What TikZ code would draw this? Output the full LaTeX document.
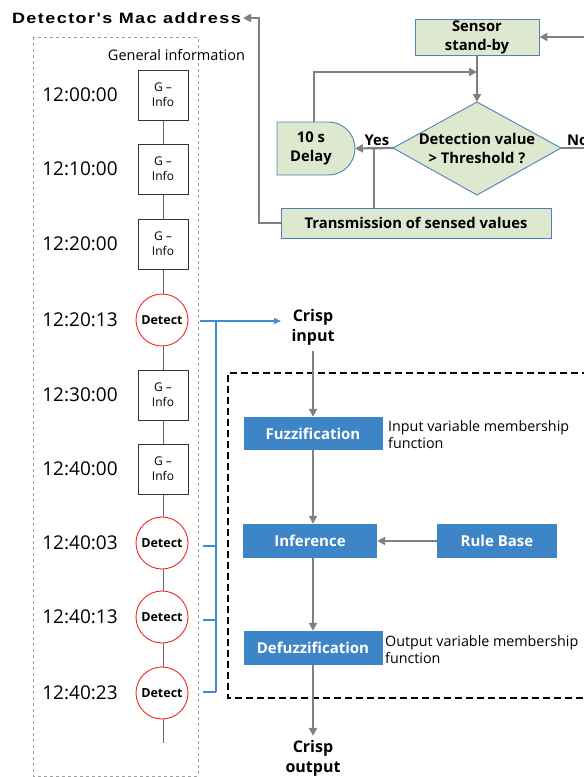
\documentclass[tikz,border=0pt]{standalone}
\usepackage{fontspec}
\setmainfont{Open Sans}
\newfontfamily\headfont[LetterSpace=8]{Liberation Sans}
\usetikzlibrary{arrows.meta}

\definecolor{flowgray}{RGB}{128,128,128}
\definecolor{greenfill}{RGB}{221,232,207}
\definecolor{edgeblue}{RGB}{79,129,189}
\definecolor{fuzzblue}{RGB}{61,133,198}
\definecolor{lineblue}{RGB}{66,138,210}
\definecolor{detred}{RGB}{240,40,40}

\tikzset{
  flow/.style={draw=flowgray, line width=2.2pt, -{Triangle[length=8pt,width=8pt]}},
  gline/.style={draw=flowgray, line width=2.2pt},
  timeline/.style={draw=black!60, line width=0.9pt},
  gbox/.style={draw=black!80, fill=white, line width=0.9pt, minimum width=50pt, minimum height=50pt,
    inner sep=0pt, align=center, font=\fontsize{12}{15}\selectfont},
  detect/.style={circle, draw=detred, fill=white, line width=0.9pt, minimum size=52pt, inner sep=0pt,
    font=\bfseries\fontsize{12.5}{14}\selectfont},
  timelbl/.style={font=\fontsize{19}{22}\selectfont},
  greenbox/.style={draw=edgeblue, fill=greenfill, line width=0.9pt},
  gtext/.style={font=\bfseries\fontsize{14.8}{19}\selectfont, align=center, inner sep=0pt},
  fuzzy/.style={fill=fuzzblue, text=white, font=\bfseries\fontsize{15}{18}\selectfont, inner sep=0pt},
  note/.style={font=\fontsize{14.3}{17}\selectfont, align=left, anchor=west, inner sep=0pt},
  crisp/.style={font=\bfseries\fontsize{16}{20}\selectfont, align=center, inner sep=0pt},
  blueline/.style={draw=lineblue, line width=1.3pt},
}

\begin{document}
\begin{tikzpicture}[x=1pt,y=-1pt]
\useasboundingbox (0,0) rectangle (584,777);

% ---------- detector log (left column) ----------
\node[anchor=east, inner sep=2pt] (mac) at (243,18)
  {\scalebox{1.2}[1]{\headfont\bfseries\fontsize{15}{18}\selectfont Detector's Mac address}};
\draw[gray!75, dashed, line width=0.8pt] (33,37) rectangle (198,776);
\node[font=\fontsize{14.5}{16}\selectfont] (geninfo) at (176.5,55) {General information};

\coordinate (tltop) at (163,120);
\coordinate (tlend) at (163,743);
\draw[timeline] (tltop) -- (tlend);

\node[gbox] (g1) at (163,95)  {G --\\Info};
\node[gbox] (g2) at (163,169) {G --\\Info};
\node[gbox] (g3) at (163,244) {G --\\Info};
\node[detect] (d1) at (162,320) {Detect};
\node[gbox] (g4) at (163,395) {G --\\Info};
\node[gbox] (g5) at (163,469) {G --\\Info};
\node[detect] (d2) at (162,543) {Detect};
\node[detect] (d3) at (162,617) {Detect};
\node[detect] (d4) at (162,693) {Detect};

\node[timelbl] (t1) at (80,95)  {12:00:00};
\node[timelbl] (t2) at (80,169) {12:10:00};
\node[timelbl] (t3) at (80,244) {12:20:00};
\node[timelbl] (t4) at (80,320) {12:20:13};
\node[timelbl] (t5) at (80,395) {12:30:00};
\node[timelbl] (t6) at (80,469) {12:40:00};
\node[timelbl] (t7) at (80,543) {12:40:03};
\node[timelbl] (t8) at (80,617) {12:40:13};
\node[timelbl] (t9) at (80,693) {12:40:23};

% ---------- detection events feeding the fuzzy system ----------
\coordinate (b0) at (200,321);
\coordinate (bj) at (216,321);
\coordinate (bend) at (216,692);
\coordinate (bt2) at (203,546);
\coordinate (bt3) at (203,620);
\coordinate (bt4) at (203,692);
\coordinate (crisptip) at (281,321);
\draw[blueline, -{Triangle[length=7pt,width=6pt]}] (b0) -- (crisptip);
\draw[blueline] (bj) -- (bend);
\draw[blueline] (bt2) -- (bt2 -| bj);
\draw[blueline] (bt3) -- (bt3 -| bj);
\draw[blueline] (bt4) -- (bj |- bt4);

% ---------- fuzzy inference system ----------
\node[crisp] (crispin) at (313,327) {Crisp\\input};
\draw[black, line width=2pt, dash pattern=on 7pt off 4pt] (600,373) -- (228,373) -- (228,698) -- (600,698);

\node[fuzzy, minimum width=139pt, minimum height=33pt] (fuzz) at (313,433.5) {Fuzzification};
\node[fuzzy, minimum width=134pt, minimum height=34pt] (infer) at (310,541) {Inference};
\node[fuzzy, minimum width=120pt, minimum height=34pt] (rules) at (497,541) {Rule Base};
\node[fuzzy, minimum width=139pt, minimum height=34pt] (defuzz) at (313,648) {Defuzzification};

\node[note] (innote) at (388,435) {Input variable membership\\function};
\node[note] (outnote) at (385,650) {Output variable membership\\function};

\node[crisp] (crispout) at (313,758) {Crisp\\output};

\draw[flow, shorten <=6pt] (crispin.south) -- (fuzz.north);
\draw[flow] (fuzz.south) -- (fuzz.south |- infer.north);
\draw[flow] (rules.west) -- (infer.east);
\draw[flow] (fuzz.south |- infer.south) -- (defuzz.north);
\draw[flow, shorten >=4pt] (defuzz.south) -- (crispout.north);

% ---------- sensor flowchart (top right) ----------
\node[greenbox, minimum width=124pt, minimum height=36pt, inner sep=0pt] (standby) at (477,37) {};
\node[gtext] (standbytxt) at (477,37) {Sensor\\stand-by};

\coordinate (dtop) at (477,102);
\coordinate (dleft) at (393,148);
\coordinate (dright) at (561,148);
\coordinate (dbot) at (477,195);
\draw[greenbox] (dtop) -- (dright) -- (dbot) -- (dleft) -- cycle;
\node[gtext] (decision) at (477,148.5) {Detection value\\> Threshold ?};

\coordinate (delaytop) at (314,122);
\coordinate (delayeast) at (355,148.5);
\draw[greenbox] (277,122) -- (328.5,122) arc[start angle=-90, end angle=90, radius=26.5] -- (277,175) -- cycle;
\node[gtext] (delay) at (311,148.5) {10 s\\Delay};

\node[greenbox, minimum width=270pt, minimum height=30pt, inner sep=0pt] (trans) at (416,223) {};
\node[gtext] (transtxt) at (416,223) {Transmission of sensed values};

\node[gtext] (yes) at (377,140) {Yes};
\node[gtext, anchor=west] (no) at (567,140) {No};

\coordinate (loopin) at (477,72);
\coordinate (yesjoin) at (374,148);
\coordinate (macbend) at (259,18);
\coordinate (rightin) at (600,37);
\coordinate (rightout) at (600,148);

\draw[flow] (standby.south) -- (dtop);
\draw[flow] (delaytop) |- (loopin);
\draw[flow] (dleft) -- (delayeast);
\draw[gline] (yesjoin) -- (yesjoin |- trans.north);
\draw[flow] (trans.west) -| (macbend) -- (mac.east);
\draw[flow] (rightin) -- (standby.east);
\draw[gline] (dright) -- (rightout);
\end{tikzpicture}
\end{document}
